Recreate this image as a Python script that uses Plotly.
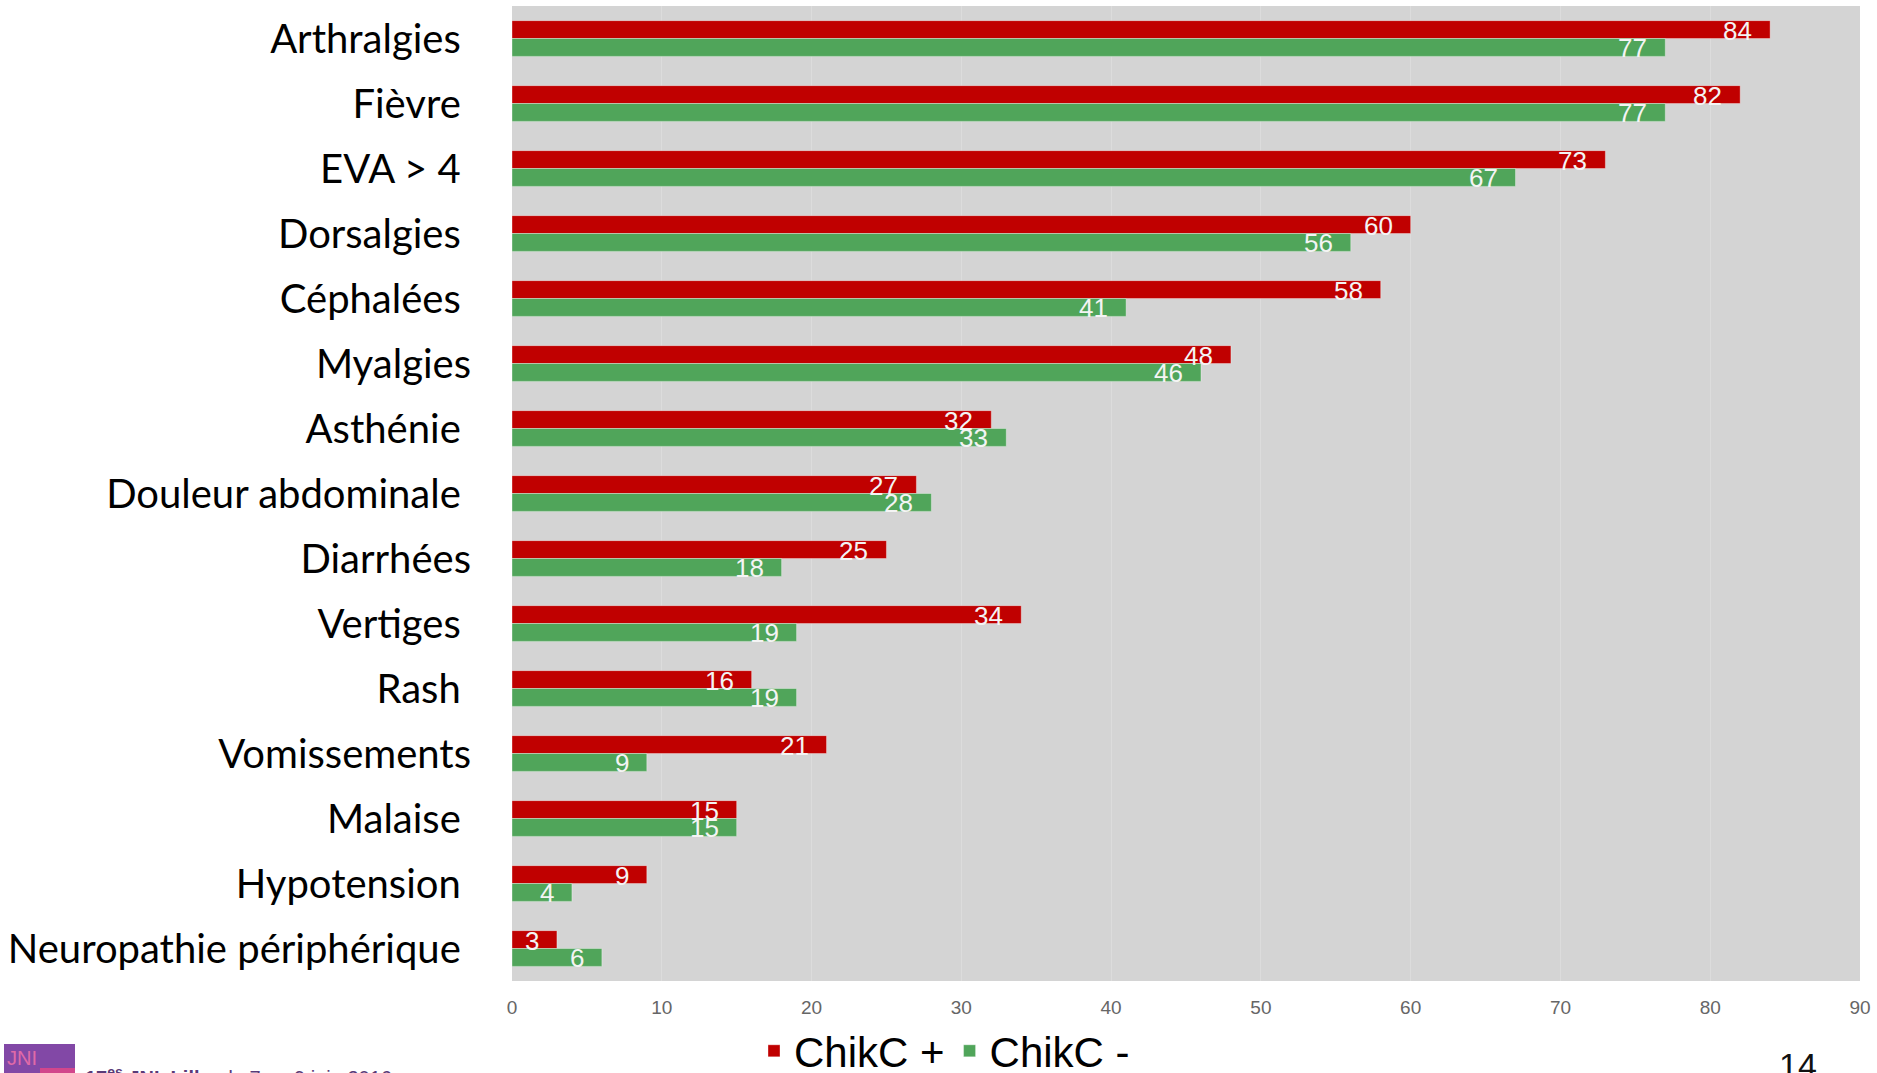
import plotly.graph_objects as go

categories = ["Arthralgies", "Fièvre", "EVA > 4", "Dorsalgies", "Céphalées", "Myalgies",
              "Asthénie", "Douleur abdominale", "Diarrhées", "Vertiges", "Rash",
              "Vomissements", "Malaise", "Hypotension", "Neuropathie périphérique"]
chikc_pos = [84, 82, 73, 60, 58, 48, 32, 27, 25, 34, 16, 21, 15, 9, 3]
chikc_neg = [77, 77, 67, 56, 41, 46, 33, 28, 18, 19, 19, 9, 15, 4, 6]
series_names = ["ChikC +", "ChikC -"]
x_ticks = [0, 10, 20, 30, 40, 50, 60, 70, 80, 90]

RED = "#C00000"
GREEN = "#50A55A"
BARGAP = 0.45
NARROW = "Liberation Sans Narrow, Arial Narrow, Liberation Sans, Arial, sans-serif"

# labels that carry a trailing space in the original slide
padded = {"Arthralgies", "Fièvre", "EVA > 4", "Dorsalgies", "Céphalées", "Asthénie",
          "Douleur abdominale", "Rash", "Malaise", "Hypotension", "Neuropathie périphérique",
          "Vertiges"}
tick_text = [c + ("\u00a0" if c in padded else "") for c in categories]

fig = go.Figure()
for name, vals, col in [(series_names[0], chikc_pos, RED), (series_names[1], chikc_neg, GREEN)]:
    fig.add_trace(go.Bar(
        y=list(range(len(categories))), x=vals, name=name, orientation="h",
        marker=dict(color=col, line=dict(color="rgba(255,255,255,0.35)", width=1)),
        hoverinfo="x+name",
    ))

half = (1 - BARGAP) / 4
annotations = []
for i in range(len(categories)):
    for vals, off in [(chikc_pos, -half), (chikc_neg, half)]:
        annotations.append(dict(
            x=vals[i], y=i + off, xref="x", yref="y", text=str(vals[i]),
            showarrow=False, xanchor="right", yanchor="middle", xshift=-16, yshift=-1,
            font=dict(family=NARROW, size=26, color="#F4F4F4"),
        ))

# slide footer elements
annotations.append(dict(text="14", xref="paper", yref="paper", x=0.954, y=(981 - 1044) / 975,
                        xanchor="center", yanchor="top", showarrow=False,
                        font=dict(family="Liberation Sans, Arial", size=34, color="#111111")))
annotations.append(dict(text="<b>17<sup>es</sup> JNI, Lille</b>, du 7 au 9 juin 2016",
                        xref="paper", yref="paper", x=(83 - 512) / 1348, y=(981 - 1062) / 975,
                        xanchor="left", yanchor="top", showarrow=False,
                        font=dict(family="Liberation Sans, Arial", size=20, color="#5A3A78")))
annotations.append(dict(text="JNI", xref="paper", yref="paper", x=(22 - 512) / 1348,
                        y=(981 - 1058) / 975, xanchor="center", yanchor="middle", showarrow=False,
                        font=dict(family="Liberation Sans, Arial", size=20, color="#E06AA8")))

shapes = [
    dict(type="rect", xref="paper", yref="paper", x0=(4 - 512) / 1348, x1=(75 - 512) / 1348,
         y0=(981 - 1073) / 975, y1=(981 - 1044) / 975, fillcolor="#8248A6", line=dict(width=0),
         layer="below"),
    dict(type="rect", xref="paper", yref="paper", x0=(40 - 512) / 1348, x1=(75 - 512) / 1348,
         y0=(981 - 1073) / 975, y1=(981 - 1068) / 975, fillcolor="#D2468C", line=dict(width=0),
         layer="below"),
]

fig.update_layout(
    width=1877, height=1073,
    margin=dict(l=512, r=17, t=6, b=92, autoexpand=False),
    paper_bgcolor="white", plot_bgcolor="#D4D4D4",
    barmode="group", bargap=BARGAP, bargroupgap=0,
    showlegend=True,
    legend=dict(orientation="h", x=(754 - 512) / 1348, y=(981 - 1051) / 975,
                xanchor="left", yanchor="middle",
                font=dict(family=NARROW, size=42, color="#000000"),
                bgcolor="rgba(0,0,0,0)", traceorder="normal", itemwidth=30),
    xaxis=dict(range=[0, 90], tickvals=x_ticks, showgrid=True, gridcolor="#DCDCDC", gridwidth=1,
               zeroline=False, showline=False, ticks="", ticklabelstandoff=13,
               tickfont=dict(family=NARROW, size=19, color="#666666")),
    yaxis=dict(tickvals=list(range(len(categories))), ticktext=tick_text,
               range=[len(categories) - 0.5, -0.5], showgrid=False, zeroline=False,
               ticks="", ticklabelstandoff=40,
               tickfont=dict(family="Lato, Calibri, sans-serif", size=40, color="#000000")),
    annotations=annotations, shapes=shapes,
)

fig.write_html("out.html")
